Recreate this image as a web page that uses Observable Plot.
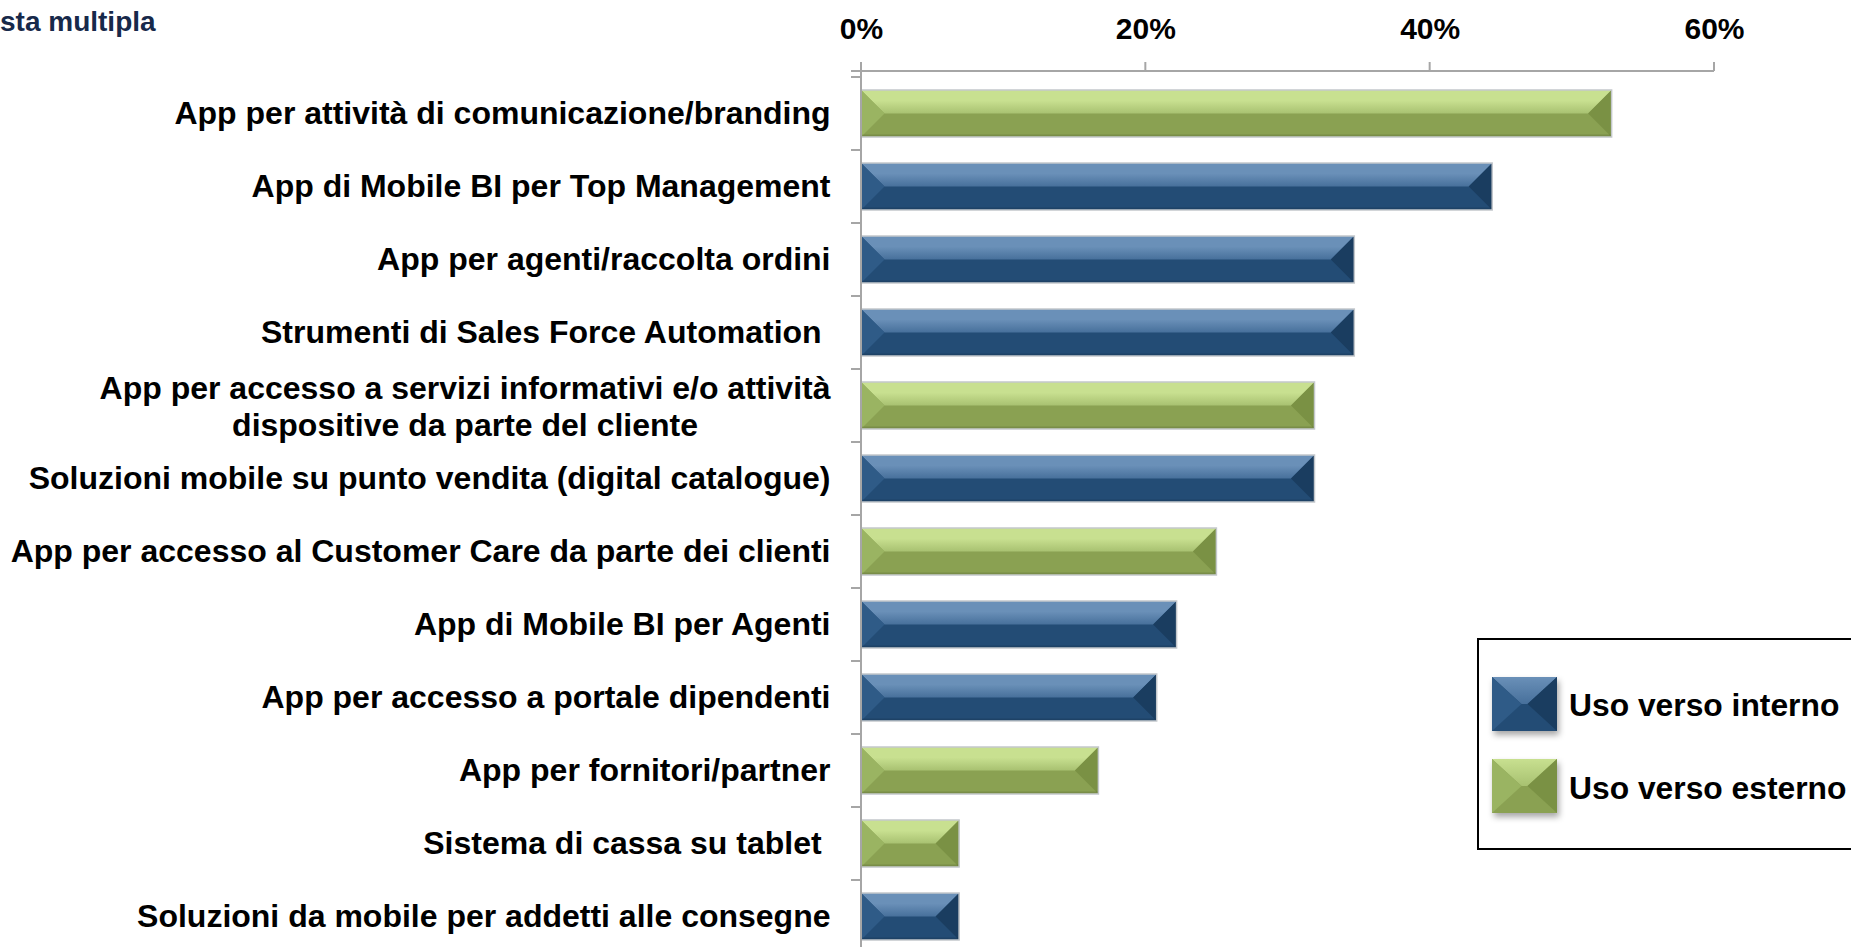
<!DOCTYPE html>
<html lang="it">
<head>
<meta charset="utf-8">
<title>App mobile</title>
<script src="https://cdn.jsdelivr.net/npm/d3@7"></script>
<script src="https://cdn.jsdelivr.net/npm/@observablehq/plot@0.6"></script>
<style>
html, body { margin:0; padding:0; background:#fff; overflow:hidden; }
#page { position:relative; width:1851px; height:947px; overflow:hidden; background:#fff;
  font-family:"Liberation Sans", Arial, Helvetica, sans-serif; font-weight:bold; }
#chart { position:absolute; left:0; top:0; }
#chart svg text { white-space: pre; }
#note { position:absolute; left:0px; top:8px; font-size:28px; line-height:1; color:#17294a; white-space:nowrap; }
#legend { position:absolute; left:1477px; top:638px; width:420px; height:212px; border:2px solid #000; box-sizing:border-box; background:#fff; }
.sw { position:absolute; left:13px; filter: drop-shadow(2px 4px 3px rgba(0,0,0,0.35)); }
.lt { position:absolute; left:90px; font-size:31.8px; line-height:1; color:#000; white-space:nowrap; }
</style>
</head>
<body>
<div id="page">
  <div id="note"></div>
  <div id="chart"></div>
  <div id="legend"></div>
</div>
<script>
// ---------- data ----------
const categories = [
  "App per attività di comunicazione/branding",
  "App di Mobile BI per Top Management",
  "App per agenti/raccolta ordini",
  "Strumenti di Sales Force Automation ",
  "App per accesso a servizi informativi e/o attività\ndispositive da parte del cliente",
  "Soluzioni mobile su punto vendita (digital catalogue)",
  "App per accesso al Customer Care da parte dei clienti",
  "App di Mobile BI per Agenti",
  "App per accesso a portale dipendenti",
  "App per fornitori/partner",
  "Sistema di cassa su tablet ",
  "Soluzioni da mobile per addetti alle consegne"
];
const values = [0.528, 0.444, 0.347, 0.347, 0.319, 0.319, 0.250, 0.222, 0.208, 0.167, 0.069, 0.069];
const usage = [
  "Uso verso esterno", "Uso verso interno", "Uso verso interno", "Uso verso interno",
  "Uso verso esterno", "Uso verso interno", "Uso verso esterno", "Uso verso interno",
  "Uso verso interno", "Uso verso esterno", "Uso verso esterno", "Uso verso interno"
];
const seriesNames = ["Uso verso interno", "Uso verso esterno"];
const xTicks = [0, 0.2, 0.4, 0.6];
const noteText = "sta multipla";

// ---------- styles ----------
const FONT = "'Liberation Sans', Arial, Helvetica, sans-serif";
const LABEL_SIZE = 32;
const palette = {
  "Uso verso interno": {base:"#234c75", top:"#6a90b8", mid:"#47709b", left:"#2f5b87", right:"#1a3d60"},
  "Uso verso esterno": {base:"#8aa152", top:"#c8e090", mid:"#a8c171", left:"#9ab462", right:"#7a9144"}
};
const AXIS = "#a6a6a6";

const rows = categories.map((c, i) => ({category: c, value: values[i], series: usage[i]}));
const singleRows = rows.filter(r => !r.category.includes("\n"));
const multiRows = rows.filter(r => r.category.includes("\n"));

// width of the widest line of multi-line labels (for centred block)
const ctx = document.createElement("canvas").getContext("2d");
ctx.font = `bold ${LABEL_SIZE}px ${FONT}`;
const multiWidth = multiRows.length ? Math.max(...multiRows[0].category.split("\n").map(s => ctx.measureText(s).width)) : 0;

// bevel overlay drawn through Plot's scales
function bevel(index, scales, vals, dims) {
  const x = scales.x, y = scales.y, bw = y.bandwidth();
  const g = d3.create("svg:g");
  const defs = g.append("defs");
  seriesNames.forEach((s, k) => {
    const lg = defs.append("linearGradient").attr("id", "bev" + k).attr("x1", 0).attr("y1", 0).attr("x2", 0).attr("y2", 1);
    lg.append("stop").attr("offset", "0%").attr("stop-color", palette[s].top);
    lg.append("stop").attr("offset", "45%").attr("stop-color", palette[s].top);
    lg.append("stop").attr("offset", "100%").attr("stop-color", palette[s].mid);
  });
  rows.forEach(r => {
    const p = palette[r.series], k = seriesNames.indexOf(r.series);
    const x0 = x(0), x1 = x(r.value), y0 = y(r.category), h = bw, ym = y0 + h / 2;
    const b = Math.min(h / 2, (x1 - x0) / 2);
    g.append("path").attr("d", `M${x0},${y0}L${x1},${y0}L${x1 - b},${ym}L${x0 + b},${ym}Z`).attr("fill", `url(#bev${k})`);
    g.append("path").attr("d", `M${x0},${y0}L${x0 + b},${ym}L${x0},${y0 + h}Z`).attr("fill", p.left);
    g.append("path").attr("d", `M${x1},${y0}L${x1 - b},${ym}L${x1},${y0 + h}Z`).attr("fill", p.right);
    g.append("line").attr("x1", x0).attr("x2", x1).attr("y1", y0 + h - 1.5).attr("y2", y0 + h - 1.5)
      .attr("stroke", "rgba(0,0,0,0.12)").attr("stroke-width", 2);
  });
  return g.node();
}

// axis lines and Excel-style ticks, through Plot's scales
function axes(index, scales, vals, dims) {
  const x = scales.x, y = scales.y, bw = y.bandwidth(), step = y.step();
  const g = d3.create("svg:g").attr("stroke", AXIS).attr("stroke-width", 2).attr("fill", "none");
  const top = dims.marginTop, x0 = x(0);
  g.append("line").attr("x1", x0 - 10).attr("x2", x(xTicks[xTicks.length - 1])).attr("y1", top).attr("y2", top);
  xTicks.forEach(t => g.append("line").attr("x1", x(t)).attr("x2", x(t)).attr("y1", top - 9).attr("y2", top));
  g.append("line").attr("x1", x0).attr("x2", x0).attr("y1", top - 9).attr("y2", dims.height);
  categories.forEach(c => {
    const yb = y(c) - (step - bw) / 2;
    g.append("line").attr("x1", x0 - 10).attr("x2", x0).attr("y1", yb).attr("y2", yb);
  });
  return g.node();
}

const chart = Plot.plot({
  width: 1851, height: 958,
  marginLeft: 861, marginRight: 137, marginTop: 71, marginBottom: 0,
  style: {fontFamily: FONT, fontSize: "30px", fontWeight: "bold", color: "#000", background: "transparent", overflow: "visible"},
  x: {domain: [0, 0.6], axis: "top", ticks: xTicks, tickFormat: d => `${Math.round(d * 100)}%`, tickSize: 0, tickPadding: 33, label: null},
  y: {domain: categories, axis: null, paddingInner: 0.363, paddingOuter: 0.1815, align: 0.5},
  color: {domain: seriesNames, range: seriesNames.map(s => palette[s].base)},
  marks: [
    Plot.barX(rows, {x: "value", y: "category", fill: "series"}),
    bevel,
    Plot.barX(rows, {x: "value", y: "category", fill: "none", stroke: "#c4c8cc", strokeWidth: 1.5}),
    axes,
    Plot.text(singleRows, {y: "category", text: "category", frameAnchor: "left", dx: -31, textAnchor: "end",
      fontSize: LABEL_SIZE, fontWeight: "bold", fontFamily: FONT, fill: "#000"}),
    Plot.text(multiRows, {y: "category", text: "category", frameAnchor: "left", dx: -31 - multiWidth / 2, textAnchor: "middle",
      lineHeight: 1.15, fontSize: LABEL_SIZE, fontWeight: "bold", fontFamily: FONT, fill: "#000"})
  ]
});
document.getElementById("chart").appendChild(chart);

// note
document.getElementById("note").textContent = noteText;

// legend
const legend = d3.select("#legend");
const SW = 65, SH = 54, swTops = [37, 119], txtTops = [50, 133];
seriesNames.forEach((s, k) => {
  const p = palette[s];
  const svg = legend.append("svg").attr("class", "sw").attr("width", SW).attr("height", SH).style("top", swTops[k] + "px");
  const lg = svg.append("defs").append("linearGradient").attr("id", "lg" + k).attr("x1", 0).attr("y1", 0).attr("x2", 0).attr("y2", 1);
  lg.append("stop").attr("offset", "0%").attr("stop-color", p.top);
  lg.append("stop").attr("offset", "100%").attr("stop-color", p.mid);
  const cx = SW / 2, cy = SH / 2, d = 3;
  svg.append("rect").attr("width", SW).attr("height", SH).attr("fill", p.base);
  svg.append("path").attr("d", `M0,0L${SW},0L${cx + d},${cy}L${cx - d},${cy}Z`).attr("fill", `url(#lg${k})`);
  svg.append("path").attr("d", `M0,0L${cx - d},${cy}L0,${SH}Z`).attr("fill", p.left);
  svg.append("path").attr("d", `M${SW},0L${cx + d},${cy}L${SW},${SH}Z`).attr("fill", p.right);
  legend.append("div").attr("class", "lt").style("top", txtTops[k] + "px").text(s);
});
</script>
</body>
</html>
